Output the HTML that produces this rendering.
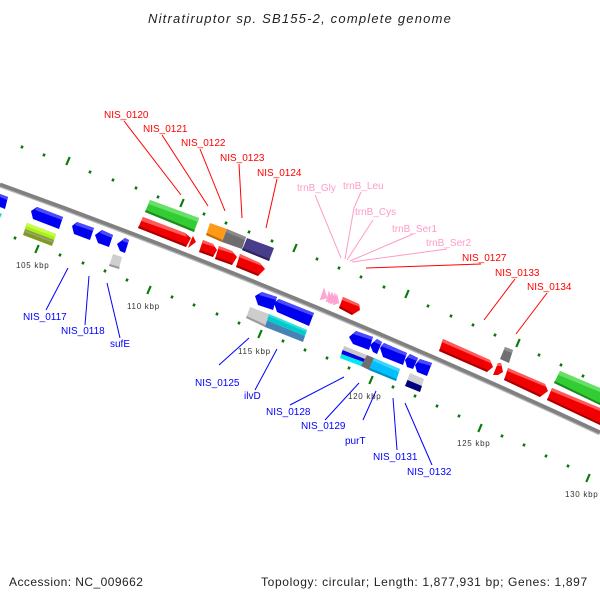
<!DOCTYPE html>
<html>
<head>
<meta charset="utf-8">
<style>
html,body{margin:0;padding:0;background:#fff}
svg{display:block}
text{font-family:"Liberation Sans",sans-serif}
.t{font-size:10px}
.r{fill:#f00}.b{fill:#00f}.p{fill:#ff9ac8}
.k{font-size:8px;fill:#333;letter-spacing:.7px}
.rl line{stroke:#f00;stroke-width:1}
.bl line{stroke:#00f;stroke-width:1}
.pl *{stroke:#ff9ac8;stroke-width:1;fill:none}
.maj{stroke:#0a7a0a;stroke-width:2.2}
.min{stroke:#0a7a0a;stroke-width:2.5}
</style>
</head>
<body>
<svg width="600" height="600" viewBox="0 0 600 600" xmlns="http://www.w3.org/2000/svg">
<rect width="600" height="600" fill="#fff"/>
<text x="148" y="23" font-size="13" font-style="italic" fill="#222" letter-spacing="1.2">Nitratiruptor sp. SB155-2, complete genome</text>

<!-- axis -->
<path d="M0,185 Q300,293 600,433" fill="none" stroke="#b5b5b5" stroke-width="5"/>
<path d="M0,184.4 Q300,292.4 600,432.4" fill="none" stroke="#808080" stroke-width="3.6"/>

<!-- minor ticks -->
<path class="min" fill="none" d="M21.4,148.3l1.2,-2.6M43.4,156.3l1.2,-2.6M89.4,173.3l1.2,-2.6M112.4,181.3l1.2,-2.6M135.4,189.3l1.2,-2.6M157.4,198.3l1.2,-2.6M203.4,215.3l1.2,-2.6M225.4,224.3l1.2,-2.6M248.4,233.3l1.2,-2.6M271.4,242.3l1.2,-2.6M316.4,260.3l1.2,-2.6M338.4,269.3l1.2,-2.6M360.4,278.3l1.2,-2.6M383.4,288.3l1.2,-2.6M427.4,307.3l1.2,-2.6M450.4,317.3l1.2,-2.6M472.4,326.3l1.2,-2.6M494.4,336.3l1.2,-2.6M538.4,356.3l1.2,-2.6M560.4,366.3l1.2,-2.6M582.4,377.3l1.2,-2.6M14.4,239.3l1.2,-2.6M59.4,256.3l1.2,-2.6M82.4,264.3l1.2,-2.6M104.4,272.3l1.2,-2.6M126.4,281.3l1.2,-2.6M171.4,298.3l1.2,-2.6M193.4,306.3l1.2,-2.6M216.4,315.3l1.2,-2.6M238.4,324.3l1.2,-2.6M282.4,342.3l1.2,-2.6M304.4,351.3l1.2,-2.6M326.4,359.3l1.2,-2.6M348.4,369.3l1.2,-2.6M392.4,388.3l1.2,-2.6M414.4,397.3l1.2,-2.6M436.4,407.3l1.2,-2.6M458.4,417.3l1.2,-2.6M501.4,437.3l1.2,-2.6M523.4,446.3l1.2,-2.6M545.4,457.3l1.2,-2.6M567.4,467.3l1.2,-2.6"/>
<!-- major ticks -->
<path class="maj" fill="none" d="M66.3,165l3.4,-8M180.3,207l3.4,-8M293.3,252l3.4,-8M405.3,298l3.4,-8M516.3,347l3.4,-8M35.3,253l3.4,-8M147.3,294l3.4,-8M258.3,338l3.4,-8M369.3,384l3.4,-8M478.3,432l3.4,-8M586.3,482l3.4,-8"/>

<!-- genes: blue -->
<g fill="#0000f0">
<polygon points="0,194 8,197 5,209 0,207"/>
<polygon points="31,211 37,207 63,217 59,229 33,219"/>
<polygon points="72,226 77,222 94,228 90,240 74,234"/>
<polygon points="95,235 102,230 113,235 109,247 98,243"/>
<polygon points="117,244 125,238 129,240 125,253 120,251"/>
<polygon points="255,296 262,292 277,297 273,310 258,305"/>
<polygon points="274,303 279,299 314,313 309,326 277,312"/>
<polygon points="349,337 356,331 373,337 369,350 353,344"/>
<polygon points="370,345 377,339 382,342 377,354 373,352"/>
<polygon points="380,348 384,343 407,353 403,365 383,357"/>
<polygon points="405,360 410,354 418,358 413,369 407,367"/>
<polygon points="415,365 420,359 432,363 427,376 417,372"/>
</g>
<g fill="#4a4aff">
<polygon points="0,194 8,197 7,200 0,197"/>
<polygon points="37,207 63,217 62,220 35,210"/>
<polygon points="77,222 94,228 93,231 75,225"/>
<polygon points="102,230 113,235 112,238 100,233"/>
<polygon points="125,238 129,240 128,243 122,241"/>
<polygon points="262,292 277,297 276,300 259,295"/>
<polygon points="279,299 314,313 313,316 277,302"/>
<polygon points="356,331 373,337 372,340 353,334"/>
<polygon points="377,339 382,342 381,345 374,342"/>
<polygon points="384,343 407,353 406,356 381,346"/>
<polygon points="410,354 418,358 417,361 407,357"/>
<polygon points="420,359 432,363 431,366 417,362"/>
</g>

<polygon points="0,213 2,214 0,218" fill="#20e0b0"/>

<!-- yellow-green -->
<polygon points="27,223 56,234 52,246 23,235" fill="#7f9a20"/>
<polygon points="27,223 56,234 54,240 25,229" fill="#a8ee20"/>
<polygon points="27,223 56,234 55,237 26,226" fill="#c6ff45"/>
<polygon points="25,230 54,241 53.400,243 24.400,232" fill="#99a070"/>

<!-- gray small -->
<polygon points="113,254 122,257 119,269 109,266" fill="#cfcfcf"/>
<polygon points="109.700,264 119.700,267 119,269 109,266" fill="#9a9a9a"/>

<!-- green 1 -->
<polygon points="150,200 199,218 194,232 145,212" fill="#32cd32"/>
<polygon points="150,200 199,218 198,222 148.500,204" fill="#66e066"/>
<polygon points="145.700,210 194.700,230 194,232 145,212" fill="#208a20"/>

<!-- red -->
<g fill="#f00000">
<polygon points="143,217 185,233 191,238 186,247 138,228"/>
<polygon points="193,236 196,242 188,248 191,240"/>
<polygon points="203,240 213,244 217,250 213,257 199,252"/>
<polygon points="219,246 232,251 237,257 232,265 215,259"/>
<polygon points="240,254 260,263 265,269 258,276 236,267"/>
<polygon points="343,297 359,304 360,310 352,315 339,308"/>
<polygon points="443,339 490,360 493,367 487,372 439,351"/>
<polygon points="498,363 501,363 503,372 498,375 493,375"/>
<polygon points="508,368 545,384 548,391 540,397 504,380"/>
<polygon points="552,388 600,408 600,425 547,400"/>
</g>
<g fill="#ff5a5a">
<polygon points="143,217 185,233 187,237 141.500,221"/>
<polygon points="203,240 213,244 215,247 202,243"/>
<polygon points="219,246 232,251 234,254 218,249"/>
<polygon points="240,254 260,263 262,266 239,257"/>
<polygon points="343,297 359,304 360,307 342,300"/>
<polygon points="443,339 490,360 491.500,363.500 441.700,342"/>
<polygon points="498,363 501,363 502,366 497,366"/>
<polygon points="508,368 545,384 546.500,387 507,371"/>
<polygon points="552,388 600,408 600,411 551,391"/>
</g>
<g fill="#a80000">
<polygon points="138.700,226 186.700,245 186,247 138,228"/>
<polygon points="199.700,250 213.700,255 213,257 199,252"/>
<polygon points="215.700,257 232.700,263 232,265 215,259"/>
<polygon points="236.700,265 258.700,274 258,276 236,267"/>
<polygon points="339.700,306 352.700,313 352,315 339,308"/>
<polygon points="439.700,349 487.700,370 487,372 439,351"/>
<polygon points="504.700,378 540.700,395 540,397 504,380"/>
<polygon points="547.700,398 600,423 600,425 547,400"/>
</g>

<!-- orange, dark gray, indigo -->
<polygon points="210,223 227,229 222,242 206,235" fill="#ff9a18"/>
<polygon points="206.800,233 222.800,240 222,242 206,235" fill="#b87010"/>
<polygon points="227,229 246,237 242,249 222,242" fill="#6e6e6e"/>
<polygon points="227,229 246,237 245,240 226,232" fill="#8a8a8a"/>
<polygon points="247,238 274,248 269,261 242,250" fill="#483d8b"/>
<polygon points="242.800,248 269.800,259 269,261 242,250" fill="#2c2560"/>

<!-- light gray + cyan/steelblue -->
<polygon points="250,307 269,314 265,327 246,318" fill="#cdcdcd"/>
<polygon points="246.800,316 265.800,325 265,327 246,318" fill="#9c9c9c"/>
<polygon points="269,314 307,330 305,336 267,320.500" fill="#00cccc"/>
<polygon points="269,314 307,330 306.500,332 268.500,316" fill="#30e0e0"/>
<polygon points="267,320.500 305,336 303,342 265,327" fill="#4682b4"/>

<!-- pink tRNA -->
<g fill="#ffa6d4" stroke="#ff8cc0" stroke-width=".3">
<polygon points="324,288 327,298 320,300"/>
<polygon points="329,291 332,300 326,302"/>
<polygon points="332,292 335,301 328,303"/>
<polygon points="335,293 337,302 330,304"/>
<polygon points="337,294 339,303 333,305"/>
</g>

<!-- stacked -->
<polygon points="344,346 367,355 361,366 340,358" fill="#c8c8c8"/>
<polygon points="342.600,350 365,359 363.500,362 341.300,354" fill="#0000e0"/>
<polygon points="341.300,354 363.500,362 361,366 340,358" fill="#00e8f0"/>
<polygon points="367,355 374,358 369,370 361,366" fill="#6e6e6e"/>
<polygon points="374,358 400,369 396,381 369,370" fill="#00bfff"/>
<polygon points="374,358 400,369 399,372 373,361" fill="#40d4ff"/>
<polygon points="369.700,368 396.700,379 396,381 369,370" fill="#0090c8"/>

<!-- gray/navy -->
<polygon points="410,373 424,379 420,392 405,386" fill="#d0d0d0"/>
<polygon points="407.500,380 422,386 420,392 405,386" fill="#000080"/>

<!-- gray near 0133 -->
<polygon points="505,347 513,350 509,363 500,359" fill="#707070"/>
<polygon points="505,347 513,350 512,353 504,350" fill="#909090"/>

<!-- green 2 -->
<polygon points="560,371 600,388 600,405 554,383" fill="#32cd32"/>
<polygon points="560,371 600,388 600,392 558.500,375" fill="#66e066"/>
<polygon points="554.700,381 600,403 600,405 554,383" fill="#208a20"/>

<!-- connectors -->
<g class="rl">
<line x1="124" y1="121" x2="181" y2="195"/>
<line x1="162" y1="135" x2="208" y2="206"/>
<line x1="200" y1="149" x2="225" y2="211"/>
<line x1="239" y1="164" x2="242" y2="218"/>
<line x1="277" y1="179" x2="266" y2="228"/>
<line x1="481" y1="264" x2="366" y2="268"/>
<line x1="515" y1="279" x2="484" y2="320"/>
<line x1="547" y1="293" x2="516" y2="334"/>
</g>
<g class="pl">
<line x1="315" y1="195" x2="341" y2="258"/>
<polyline points="361,192 354,208 345,259"/>
<line x1="373" y1="220" x2="347" y2="260"/>
<line x1="413" y1="234" x2="350" y2="261"/>
<line x1="447" y1="249" x2="352" y2="262"/>
</g>
<g class="bl">
<line x1="46" y1="310" x2="68" y2="268"/>
<line x1="85" y1="325" x2="89" y2="276"/>
<line x1="120" y1="338" x2="107" y2="283"/>
<line x1="219" y1="365" x2="249" y2="338"/>
<line x1="255" y1="390" x2="277" y2="349"/>
<line x1="290" y1="405" x2="344" y2="377"/>
<line x1="325" y1="420" x2="359" y2="383"/>
<line x1="363" y1="420" x2="376" y2="391"/>
<line x1="397" y1="450" x2="393" y2="398"/>
<line x1="432" y1="465" x2="405" y2="403"/>
</g>

<!-- labels -->
<g class="t r">
<text x="104" y="118">NIS_0120</text>
<text x="143" y="132">NIS_0121</text>
<text x="181" y="146">NIS_0122</text>
<text x="220" y="161">NIS_0123</text>
<text x="257" y="176">NIS_0124</text>
<text x="462" y="261">NIS_0127</text>
<text x="495" y="276">NIS_0133</text>
<text x="527" y="290">NIS_0134</text>
</g>
<g class="t p">
<text x="297" y="191">trnB_Gly</text>
<text x="343" y="189">trnB_Leu</text>
<text x="355" y="215">trnB_Cys</text>
<text x="392" y="232">trnB_Ser1</text>
<text x="426" y="246">trnB_Ser2</text>
</g>
<g class="t b">
<text x="23" y="320">NIS_0117</text>
<text x="61" y="334">NIS_0118</text>
<text x="110" y="347">sufE</text>
<text x="195" y="386">NIS_0125</text>
<text x="244" y="399">ilvD</text>
<text x="266" y="415">NIS_0128</text>
<text x="301" y="429">NIS_0129</text>
<text x="345" y="444">purT</text>
<text x="373" y="460">NIS_0131</text>
<text x="407" y="475">NIS_0132</text>
</g>
<g class="k">
<text x="16" y="268">105 kbp</text>
<text x="127" y="309">110 kbp</text>
<text x="238" y="354">115 kbp</text>
<text x="348" y="399">120 kbp</text>
<text x="457" y="446">125 kbp</text>
<text x="565" y="497">130 kbp</text>
</g>

<text x="9" y="586" font-size="12" fill="#222" letter-spacing=".45">Accession: NC_009662</text>
<text x="261" y="586" font-size="12" fill="#222" letter-spacing=".64">Topology: circular; Length: 1,877,931 bp; Genes: 1,897</text>
</svg>
</body>
</html>
